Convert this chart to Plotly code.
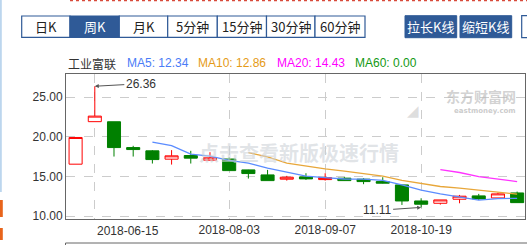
import plotly.graph_objects as go
import pandas as pd

# ---------------- data ----------------
dates = ["2018-06-08", "2018-06-15", "2018-06-22", "2018-06-29", "2018-07-06", "2018-07-13",
         "2018-07-20", "2018-07-27", "2018-08-03", "2018-08-10", "2018-08-17", "2018-08-24",
         "2018-08-31", "2018-09-07", "2018-09-14", "2018-09-21", "2018-09-28", "2018-10-12",
         "2018-10-19", "2018-10-26", "2018-11-02", "2018-11-09", "2018-11-16", "2018-11-23"]
opens = [16.55, 21.90, 21.89, 18.64, 18.23, 17.18, 17.64, 17.06, 17.20, 15.83, 15.20, 14.66,
         14.95, 14.61, 14.79, 14.66, 14.36, 13.94, 11.92, 11.63, 12.14, 12.56, 12.30, 12.93]
highs = [19.91, 26.36, 21.89, 18.86, 18.32, 18.32, 18.23, 18.06, 17.40, 15.85, 15.83, 15.08,
         15.41, 15.41, 14.92, 14.79, 14.91, 13.94, 12.26, 12.05, 12.68, 12.81, 12.97, 13.10]
lows = [16.55, 21.90, 17.51, 17.51, 16.63, 16.50, 16.63, 17.00, 15.74, 14.74, 14.48, 14.48,
        14.57, 14.48, 14.45, 14.03, 14.12, 11.42, 11.11, 11.46, 11.63, 12.05, 12.30, 11.71]
closes = [19.91, 22.60, 18.64, 18.39, 17.13, 17.60, 17.31, 17.35, 15.74, 15.37, 14.48, 14.91,
          14.70, 14.86, 14.48, 14.36, 14.16, 11.92, 11.51, 12.05, 12.52, 12.18, 12.81, 11.71]

x_tick_dates = ["2018-06-15", "2018-08-03", "2018-09-07", "2018-10-19"]
y_ticks = [10, 15, 20, 25]
y_tick_labels = ["10.00", "15.00", "20.00", "25.00"]

stock_name = "工业富联"
ma_labels = ["MA5: 12.34", "MA10: 12.86", "MA20: 14.43", "MA60: 0.00"]
period_buttons = ["日K", "周K", "月K", "5分钟", "15分钟", "30分钟", "60分钟"]
zoom_buttons = ["拉长K线", "缩短K线"]
high_label = "26.36"
low_label = "11.11"

cs = pd.Series(closes)
ma5 = cs.rolling(5).mean()
ma10 = cs.rolling(10).mean()
ma20 = cs.rolling(20).mean()

# ---------------- layout helpers ----------------
W, H = 527, 245
L, R, T, B = 66, 525, 74, 219


def px(x):
    return (x - L) / (R - L)


def py(y):
    return (B - y) / (B - T)


NUM_FONT = "Liberation Sans, Arial, sans-serif"
CJK_FONT = "Noto Sans CJK SC, sans-serif"
BLUE_BTN = "#2f5a97"

fig = go.Figure()

fig.add_trace(go.Candlestick(
    x=dates, open=opens, high=highs, low=lows, close=closes,
    increasing=dict(line=dict(color="#ff0000", width=1), fillcolor="#ffffff"),
    decreasing=dict(line=dict(color="#008000", width=1), fillcolor="#008000"),
    whiskerwidth=0, showlegend=False, hoverinfo="skip",
))

for series, color in [(ma5, "#5b8cff"), (ma10, "#e8a73a"), (ma20, "#ff33ff")]:
    fig.add_trace(go.Scatter(
        x=dates, y=[None if pd.isna(v) else v for v in series],
        mode="lines", line=dict(color=color, width=1.3), showlegend=False, hoverinfo="skip",
    ))

shapes = []
annotations = []

# period buttons
btn_edges = [21.7, 70, 119.3, 167.7, 217.3, 266.5, 315, 365]
by0, by1 = 16, 37.3
for i, lab in enumerate(period_buttons):
    x0, x1 = btn_edges[i], btn_edges[i + 1]
    filled = (lab == "周K")
    shapes.append(dict(type="rect", xref="paper", yref="paper",
                       x0=px(x0), x1=px(x1), y0=py(by1), y1=py(by0),
                       line=dict(color=BLUE_BTN, width=1.2),
                       fillcolor=BLUE_BTN if filled else "#ffffff", layer="above"))
    annotations.append(dict(xref="paper", yref="paper", x=px((x0 + x1) / 2), y=py((by0 + by1) / 2),
                            text=lab, showarrow=False, xanchor="center", yanchor="middle",
                            font=dict(family=CJK_FONT, size=13, color="#ffffff" if filled else "#222222")))

# zoom buttons
zb = [(405, 456.7), (460, 511.7)]
for (x0, x1), lab in zip(zb, zoom_buttons):
    shapes.append(dict(type="rect", xref="paper", yref="paper",
                       x0=px(x0), x1=px(x1), y0=py(37.7), y1=py(15.7),
                       line=dict(color=BLUE_BTN, width=1), fillcolor=BLUE_BTN, layer="above"))
    annotations.append(dict(xref="paper", yref="paper", x=px((x0 + x1) / 2), y=py(26.7),
                            text=lab, showarrow=False, xanchor="center", yanchor="middle",
                            font=dict(family=CJK_FONT, size=13, color="#ffffff")))
shapes.append(dict(type="rect", xref="paper", yref="paper",
                   x0=px(521.7), x1=px(535), y0=py(37.7), y1=py(15.7),
                   line=dict(color=BLUE_BTN, width=1.2), fillcolor="#ffffff", layer="above"))

# page decorations
shapes.append(dict(type="line", xref="paper", yref="paper", x0=px(70), x1=px(530),
                   y0=py(0.6), y1=py(0.6), line=dict(color="#d84a3a", width=1.5, dash="dot")))
shapes.append(dict(type="rect", xref="paper", yref="paper", x0=px(-1), x1=px(1.8),
                   y0=py(192), y1=py(-2), line=dict(width=0), fillcolor="#bcd6ee"))
for (a, b) in [(200, 217), (228, 240)]:
    shapes.append(dict(type="rect", xref="paper", yref="paper", x0=px(-1), x1=px(2.8),
                       y0=py(b), y1=py(a), line=dict(width=0), fillcolor="#e8641b"))
shapes.append(dict(type="rect", xref="paper", yref="paper", x0=px(65.5), x1=px(540),
                   y0=py(255), y1=py(243), line=dict(color="#666666", width=1)))

# title / MA legend
annotations.append(dict(xref="paper", yref="paper", x=px(66), y=py(63), text=stock_name,
                        showarrow=False, xanchor="left", yanchor="middle",
                        font=dict(family=CJK_FONT, size=12, color="#333333")))
for lab, xpos, col in zip(ma_labels, [125, 196, 275, 353], ["#4a7cf7", "#e59b17", "#ff00ff", "#139913"]):
    annotations.append(dict(xref="paper", yref="paper", x=px(xpos), y=py(63), text=lab,
                            showarrow=False, xanchor="left", yanchor="middle",
                            font=dict(family=NUM_FONT, size=12, color=col)))

# watermark
annotations.append(dict(xref="paper", yref="paper", x=px(299), y=py(152),
                        text="<b>点击查看新版极速行情</b>", showarrow=False,
                        font=dict(family=CJK_FONT, size=20, color="rgba(205,210,216,0.6)")))
annotations.append(dict(xref="paper", yref="paper", x=px(517), y=py(96),
                        text="<b>东方财富网</b>", showarrow=False, xanchor="right", yanchor="middle",
                        borderpad=0,
                        font=dict(family=CJK_FONT, size=14, color="rgba(185,185,185,0.65)")))
annotations.append(dict(xref="paper", yref="paper", x=px(517), y=py(110.5),
                        text="<b>eastmoney.com</b>", showarrow=False, xanchor="right", yanchor="middle",
                        borderpad=0,
                        font=dict(family="DejaVu Sans, sans-serif", size=7, color="rgba(185,185,185,0.75)")))
annotations.append(dict(xref="paper", yref="paper", x=px(420), y=py(101),
                        text="<b>◢</b>", showarrow=False, borderpad=0,
                        font=dict(family="DejaVu Sans", size=15, color="rgba(190,190,190,0.5)")))

# high / low markers
ih = highs.index(max(highs))
il = lows.index(min(lows))
annotations.append(dict(x=dates[ih], y=highs[ih], xref="x", yref="y", text=high_label,
                        showarrow=True, ax=46, ay=-2.5, arrowhead=2, arrowsize=0.8,
                        arrowwidth=1, arrowcolor="#555555",
                        font=dict(family=NUM_FONT, size=12, color="#333333")))
annotations.append(dict(x=dates[il], y=lows[il], xref="x", yref="y", text=low_label,
                        showarrow=True, ax=-44, ay=3, arrowhead=2, arrowsize=0.8,
                        arrowwidth=1, arrowcolor="#555555",
                        font=dict(family=NUM_FONT, size=12, color="#333333")))

# first x label is left-aligned to its grid line
annotations.append(dict(x=dates[1], y=0, xref="x", yref="paper", yshift=-12,
                        text=x_tick_dates[0], showarrow=False, xanchor="left", yanchor="middle",
                        font=dict(family=NUM_FONT, size=12, color="#333333")))

fig.update_layout(
    width=W, height=H,
    margin=dict(l=L, r=W - R, t=T, b=H - B),
    paper_bgcolor="#ffffff", plot_bgcolor="#ffffff",
    boxgap=0.32, boxgroupgap=0,
    shapes=shapes, annotations=annotations,
    showlegend=False,
)
fig.update_xaxes(
    type="category", range=[-0.5, 23.41], rangeslider_visible=False,
    tickvals=x_tick_dates, ticktext=[""] + x_tick_dates[1:],
    showgrid=True, gridcolor="#cccccc", griddash="dash", gridwidth=1,
    showline=True, linecolor="#666666", linewidth=1, mirror=True,
    ticks="", tickfont=dict(family=NUM_FONT, size=12, color="#333333"),
    zeroline=False, fixedrange=True,
)
fig.update_yaxes(
    range=[9.65, 27.9], tickvals=y_ticks, ticktext=y_tick_labels,
    showgrid=True, gridcolor="#cccccc", griddash="dash", gridwidth=1,
    showline=True, linecolor="#666666", linewidth=1, mirror=True,
    ticks="", tickfont=dict(family=NUM_FONT, size=12, color="#333333"),
    zeroline=False, fixedrange=True,
)

fig.write_html("out.html", config={"displayModeBar": False})
